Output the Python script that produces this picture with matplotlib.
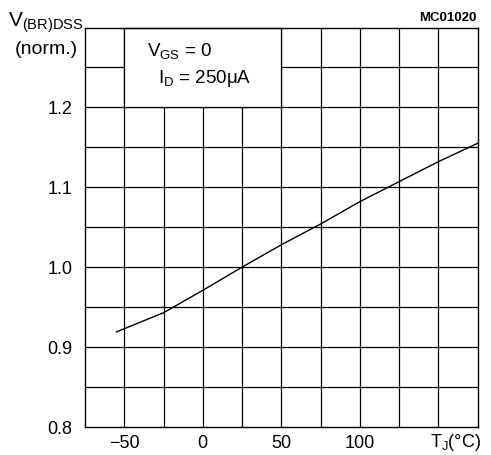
import matplotlib
matplotlib.use("Agg")
import matplotlib.pyplot as plt
from matplotlib.patches import Rectangle
import numpy as np

plt.rcParams['font.family'] = ['Liberation Sans', 'DejaVu Sans']
plt.rcParams['mathtext.fontset'] = 'custom'
plt.rcParams['mathtext.rm'] = 'Liberation Sans'
plt.rcParams['mathtext.it'] = 'Liberation Sans'

# data
temp_c = [-55, -25, 0, 25, 50, 75, 100, 125, 150, 175]
v_norm = [0.919, 0.943, 0.971, 1.000, 1.028, 1.054, 1.082, 1.107, 1.132, 1.155]
xtick_vals = [-50, 0, 50, 100]
xtick_labels = ['\u221250', '0', '50', '100']
ytick_vals = [0.8, 0.9, 1.0, 1.1, 1.2]
ytick_labels = ['0.8', '0.9', '1.0', '1.1', '1.2']

W, H = 491, 455
fig = plt.figure(figsize=(W/100, H/100), dpi=100)
l, r, t, b = 85, 477.5, 27.5, 427
ax = fig.add_axes([l/W, 1-b/H, (r-l)/W, (b-t)/H])
ax.set_xlim(-75, 175)
ax.set_ylim(0.8, 1.3)

for xv in np.arange(-50, 175, 25):
    ax.axvline(xv, color='black', lw=0.9, zorder=1)
for yv in np.arange(0.85, 1.3, 0.05):
    ax.axhline(yv, color='black', lw=0.9, zorder=1)

ax.add_patch(Rectangle((-50, 1.2), 100, 0.1, facecolor='white', edgecolor='black',
                       lw=0.9, zorder=2, clip_on=False))

ax.plot(temp_c, v_norm, color='black', lw=1.0, zorder=3)

for s in ax.spines.values():
    s.set_linewidth(1.0)
    s.set_color('black')

ax.set_xticks(xtick_vals)
ax.set_xticklabels(xtick_labels, fontsize=13)
ax.set_yticks(ytick_vals)
ax.set_yticklabels(ytick_labels, fontsize=13)
ax.tick_params(length=0)
ax.tick_params(axis='x', pad=6)
ax.tick_params(axis='y', pad=9)

ax.text(161, -0.04, 'T$_\\mathrm{J}$(\u00b0C)',
        transform=ax.get_xaxis_transform(), ha='center', va='center', fontsize=13)

fig.text(46/W, 1-23/H, r'V$_{\mathrm{(BR)DSS}}$', ha='center', va='center', fontsize=15)
fig.text(46/W, 1-50/H, '(norm.)', ha='center', va='center', fontsize=14)

ax.text(-35.5, 1.27, r'V$_{\mathrm{GS}}$ = 0', ha='left', va='center', fontsize=13.5, zorder=4)
ax.text(-28.5, 1.236, r'I$_{\mathrm{D}}$ = 250$\mu$A', ha='left', va='center', fontsize=13.5, zorder=4)

fig.text(476/W, 1-18/H, 'MC01020', ha='right', va='center', fontsize=9.5, fontweight='bold')

fig.savefig('out.png', dpi=100)
